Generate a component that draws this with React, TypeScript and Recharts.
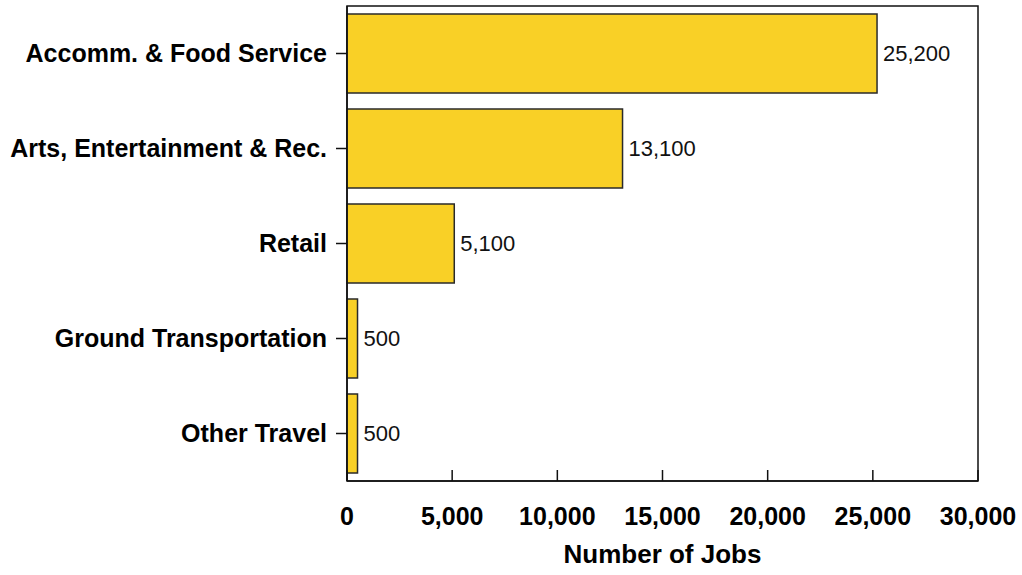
import { Bar, BarChart, LabelList, ReferenceArea, XAxis, YAxis } from "recharts"

document.body.style.margin = "0"

const industries = [
  "Accomm. & Food Service",
  "Arts, Entertainment & Rec.",
  "Retail",
  "Ground Transportation",
  "Other Travel",
]
const jobs = [25200, 13100, 5100, 500, 500]
const xTicks = [0, 5000, 10000, 15000, 20000, 25000, 30000]

const data = industries.map((name, i) => ({ name, jobs: jobs[i] }))

const fmt = (v: number) => v.toLocaleString("en-US")
const font = "'Liberation Sans', Arial, Helvetica, sans-serif"

export default function App() {
  return (
    <div style={{ fontFamily: font }}>
      <BarChart
        width={1022}
        height={575}
        data={data}
        layout="vertical"
        margin={{ top: 6, right: 44, bottom: 0, left: 0 }}
        barCategoryGap={8}
      >
        <XAxis
          type="number"
          domain={[0, 30000]}
          ticks={xTicks}
          tickFormatter={fmt}
          height={94}
          axisLine={{ stroke: "#111", strokeWidth: 1.5 }}
          tickLine={{ stroke: "#111", strokeWidth: 1.5 }}
          tickSize={-11}
          tickMargin={37}
          tick={{ fill: "#000", fontSize: 25, fontWeight: "bold", fontFamily: font }}
          label={{
            value: "Number of Jobs",
            position: "insideBottom",
            offset: 12,
            fill: "#000",
            fontSize: 26,
            fontWeight: "bold",
            fontFamily: font,
          }}
        />
        <YAxis
          type="category"
          dataKey="name"
          width={347}
          axisLine={{ stroke: "#111", strokeWidth: 1.5 }}
          tickLine={{ stroke: "#111", strokeWidth: 1.5 }}
          tickSize={11}
          tickMargin={9}
          interval={0}
          tick={{ fill: "#000", fontSize: 25, fontWeight: "bold", fontFamily: font }}
        />
        <ReferenceArea
          x1={0}
          x2={30000}
          fill="#fff"
          fillOpacity={0}
          stroke="#111"
          strokeWidth={1.5}
        />
        <Bar
          dataKey="jobs"
          fill="#F9D026"
          stroke="#2a2a2a"
          strokeWidth={1.5}
          isAnimationActive={false}
        >
          <LabelList
            dataKey="jobs"
            position="right"
            offset={6}
            formatter={(v: any) => fmt(Number(v))}
            fill="#111"
            fontSize={22}
            fontFamily={font}
          />
        </Bar>
      </BarChart>
    </div>
  )
}
